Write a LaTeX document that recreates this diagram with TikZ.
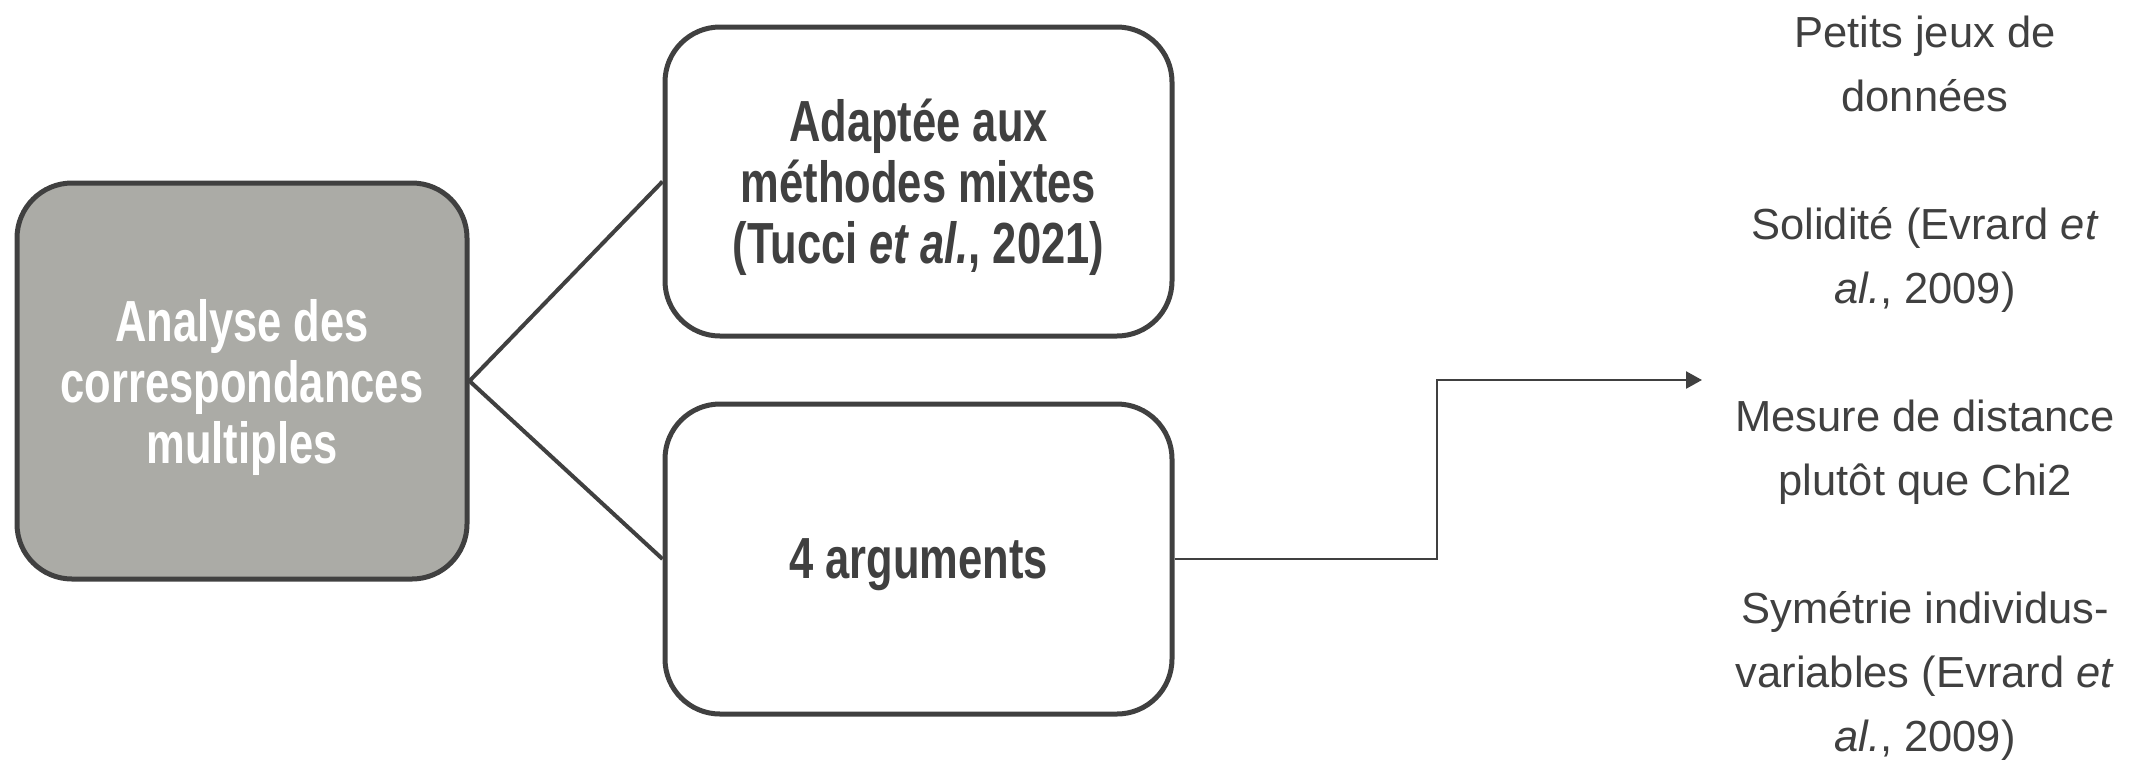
\documentclass[tikz,border=0pt]{standalone}
\usepackage{fontspec}
\setmainfont{Liberation Sans}
\newfontfamily\nb[FakeStretch=0.75]{Liberation Sans}
\usetikzlibrary{arrows.meta}
\definecolor{dk}{HTML}{404040}
\definecolor{gr}{RGB}{171,171,166}
\tikzset{
  box/.style={draw=dk, line width=5pt, rounded corners=55pt, align=center, inner sep=0pt,
    text depth=0pt, font=\nb\bfseries\fontsize{58}{61}\selectfont},
  conn/.style={draw=dk, line width=4pt},
  elbow/.style={draw=dk, line width=2.6pt, -{Triangle[length=16pt,width=17pt]}},
  listtxt/.style={align=center, text=dk, inner sep=0pt, font=\fontsize{43.5}{64}\selectfont}
}
\begin{document}
\begin{tikzpicture}[x=1pt,y=-1pt]
\useasboundingbox (0,0) rectangle (2141,761);
\node[box, fill=gr, text=white, minimum width=450pt, minimum height=396pt] (acm) at (242,381)
  {Analyse des\\correspondances\\multiples};
\node[box, fill=white, text=dk, minimum width=507pt, minimum height=309pt] (mix) at (918.5,181.5)
  {Adaptée aux\\méthodes mixtes\\(Tucci \textit{et al.}, 2021)};
\node[box, fill=white, text=dk, minimum width=507pt, minimum height=310pt] (arg) at (918.5,559)
  {4 arguments};
\node[listtxt] (list) at (1925,388)
  {Petits jeux de\\données\\[64pt]Solidité (Evrard \textit{et}\\\textit{al.}, 2009)\\[64pt]Mesure de distance\\plutôt que Chi2\\[64pt]Symétrie individus-\\variables (Evrard \textit{et}\\\textit{al.}, 2009)};
\coordinate (knee) at (1437,380);
\coordinate (tip) at (1702,380);
\draw[conn] (acm.east) -- (mix.west);
\draw[conn] (acm.east) -- (arg.west);
\draw[elbow] (arg.east) -| (knee) -- (tip);
\end{tikzpicture}
\end{document}
